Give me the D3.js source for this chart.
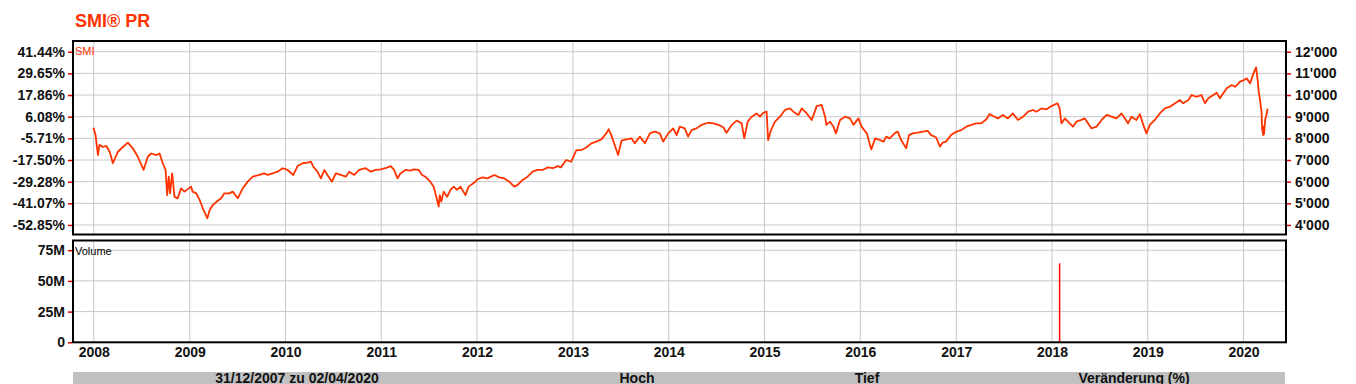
<!DOCTYPE html>
<html>
<head>
<meta charset="utf-8">
<script src="https://cdn.jsdelivr.net/npm/d3@7"></script>
<style>
    body { margin: 0; background: #fff; }
    svg text { font-family: "Liberation Sans", Arial, sans-serif; }
    .axisLabel text { font-size: 14px; font-weight: bold; fill: #111; }
    .grid line { stroke: #c8c8c8; stroke-width: 1; }
</style>
</head>
<body>
<script>

// ----- data -----

// SMI closes [date, points]
const smiCloses = [
    ["2007-12-31", 8484], ["2008-01-08", 8150], ["2008-01-17", 7230], ["2008-01-23", 7700],
    ["2008-02-05", 7600], ["2008-02-18", 7650], ["2008-03-02", 7380], ["2008-03-14", 6850],
    ["2008-04-02", 7380], ["2008-04-21", 7600], ["2008-05-10", 7800], ["2008-05-29", 7540],
    ["2008-06-17", 7150], ["2008-07-09", 6540], ["2008-07-25", 7150], ["2008-08-07", 7300],
    ["2008-08-26", 7230], ["2008-09-08", 7300], ["2008-09-20", 6850], ["2008-10-01", 6540],
    ["2008-10-07", 5380], ["2008-10-13", 6230], ["2008-10-18", 5460], ["2008-10-26", 6380],
    ["2008-11-04", 5300], ["2008-11-16", 5230], ["2008-11-29", 5690], ["2008-12-12", 5540],
    ["2009-01-06", 5770], ["2009-01-12", 5540], ["2009-01-26", 5460], ["2009-02-08", 5150],
    ["2009-02-20", 4770], ["2009-03-09", 4310], ["2009-03-18", 4690], ["2009-03-30", 4920],
    ["2009-04-14", 5080], ["2009-05-01", 5230], ["2009-05-13", 5460], ["2009-06-01", 5460],
    ["2009-06-14", 5540], ["2009-07-03", 5230], ["2009-07-22", 5690], ["2009-08-10", 6000],
    ["2009-08-29", 6230], ["2009-09-23", 6310], ["2009-10-12", 6380], ["2009-10-25", 6310],
    ["2009-11-13", 6380], ["2009-12-02", 6460], ["2009-12-21", 6620], ["2010-01-09", 6540],
    ["2010-01-31", 6310], ["2010-02-16", 6720], ["2010-03-07", 6850], ["2010-03-26", 6880],
    ["2010-04-08", 6920], ["2010-04-17", 6690], ["2010-05-03", 6460], ["2010-05-16", 6150],
    ["2010-05-29", 6540], ["2010-06-10", 6310], ["2010-06-27", 6000], ["2010-07-12", 6380],
    ["2010-07-31", 6310], ["2010-08-19", 6230], ["2010-09-01", 6460], ["2010-09-20", 6310],
    ["2010-10-09", 6540], ["2010-11-03", 6620], ["2010-11-22", 6460], ["2010-12-11", 6540],
    ["2010-12-30", 6570], ["2011-01-17", 6620], ["2011-02-06", 6720], ["2011-02-19", 6540],
    ["2011-03-04", 6150], ["2011-03-15", 6380], ["2011-04-03", 6540], ["2011-04-22", 6510],
    ["2011-05-05", 6570], ["2011-05-24", 6540], ["2011-06-06", 6310], ["2011-06-18", 6230],
    ["2011-07-07", 6000], ["2011-07-20", 5770], ["2011-08-08", 4850], ["2011-08-12", 5380],
    ["2011-08-18", 5080], ["2011-08-27", 5540], ["2011-09-09", 5300], ["2011-09-22", 5620],
    ["2011-10-04", 5770], ["2011-10-17", 5620], ["2011-10-30", 5770], ["2011-11-18", 5380],
    ["2011-11-30", 5770], ["2011-12-26", 6000], ["2012-01-03", 6110], ["2012-01-22", 6200],
    ["2012-02-10", 6150], ["2012-03-07", 6310], ["2012-03-26", 6200], ["2012-04-14", 6150],
    ["2012-05-03", 6000], ["2012-05-22", 5770], ["2012-06-04", 5850], ["2012-06-23", 6080],
    ["2012-07-12", 6230], ["2012-07-31", 6460], ["2012-08-19", 6540], ["2012-09-07", 6540],
    ["2012-09-27", 6660], ["2012-10-16", 6620], ["2012-11-04", 6720], ["2012-11-16", 6660],
    ["2012-12-06", 7000], ["2012-12-25", 6920], ["2013-01-14", 7460], ["2013-02-02", 7460],
    ["2013-02-21", 7580], ["2013-03-12", 7770], ["2013-03-31", 7850], ["2013-04-19", 7950],
    ["2013-05-08", 8230], ["2013-05-17", 8420], ["2013-05-27", 8150], ["2013-06-09", 7690],
    ["2013-06-22", 7230], ["2013-07-05", 7890], ["2013-07-24", 7950], ["2013-08-12", 8000],
    ["2013-08-24", 7770], ["2013-09-13", 8080], ["2013-10-02", 7770], ["2013-10-21", 8230],
    ["2013-11-09", 8310], ["2013-11-28", 8230], ["2013-12-11", 7850], ["2013-12-30", 8230],
    ["2014-01-18", 8460], ["2014-01-31", 8150], ["2014-02-12", 8540], ["2014-03-03", 8460],
    ["2014-03-16", 8080], ["2014-03-29", 8380], ["2014-04-17", 8460], ["2014-05-06", 8620],
    ["2014-05-31", 8720], ["2014-06-20", 8690], ["2014-07-09", 8620], ["2014-07-28", 8510],
    ["2014-08-09", 8260], ["2014-08-29", 8620], ["2014-09-17", 8820], ["2014-10-06", 8690],
    ["2014-10-16", 8000], ["2014-10-29", 8770], ["2014-11-13", 9000], ["2014-12-02", 9150],
    ["2014-12-15", 9000], ["2014-12-27", 9180], ["2015-01-09", 9230], ["2015-01-15", 7920],
    ["2015-01-26", 8380], ["2015-02-10", 8770], ["2015-03-01", 9000], ["2015-03-20", 9310],
    ["2015-04-08", 9380], ["2015-04-21", 9230], ["2015-05-10", 9080], ["2015-05-23", 9380],
    ["2015-06-11", 9150], ["2015-06-30", 8850], ["2015-07-19", 9490], ["2015-08-07", 9540],
    ["2015-08-20", 9000], ["2015-08-25", 8620], ["2015-09-08", 8770], ["2015-09-21", 8540],
    ["2015-09-30", 8230], ["2015-10-16", 8850], ["2015-11-04", 9000], ["2015-11-23", 8920],
    ["2015-12-06", 8620], ["2015-12-25", 8920], ["2016-01-06", 8540], ["2016-01-26", 8230],
    ["2016-02-12", 7490], ["2016-02-27", 8000], ["2016-03-17", 7920], ["2016-03-30", 7850],
    ["2016-04-09", 8080], ["2016-04-22", 8000], ["2016-05-11", 8230], ["2016-05-23", 8310],
    ["2016-06-05", 7920], ["2016-06-24", 7540], ["2016-07-05", 8150], ["2016-07-19", 8230],
    ["2016-08-07", 8260], ["2016-08-26", 8310], ["2016-09-14", 8350], ["2016-09-27", 8150],
    ["2016-10-16", 8050], ["2016-10-31", 7620], ["2016-11-10", 7800], ["2016-11-23", 7850],
    ["2016-12-12", 8150], ["2017-01-02", 8310], ["2017-01-20", 8380], ["2017-02-08", 8540],
    ["2017-02-27", 8620], ["2017-03-18", 8690], ["2017-04-06", 8690], ["2017-04-26", 8880],
    ["2017-05-08", 9120], ["2017-05-27", 9000], ["2017-06-09", 8920], ["2017-06-28", 9080],
    ["2017-07-17", 8920], ["2017-08-05", 9150], ["2017-08-24", 8850], ["2017-09-13", 9000],
    ["2017-10-02", 9230], ["2017-10-21", 9310], ["2017-11-02", 9230], ["2017-11-22", 9380],
    ["2017-12-11", 9340], ["2017-12-30", 9490], ["2018-01-22", 9620], ["2018-01-30", 9380],
    ["2018-02-06", 8690], ["2018-02-19", 8920], ["2018-03-03", 8770], ["2018-03-22", 8540],
    ["2018-04-04", 8770], ["2018-04-23", 8850], ["2018-05-06", 8920], ["2018-05-19", 8690],
    ["2018-05-31", 8460], ["2018-06-20", 8540], ["2018-07-09", 8850], ["2018-07-28", 9080],
    ["2018-08-16", 9000], ["2018-09-04", 8920], ["2018-09-23", 9150], ["2018-10-06", 8920],
    ["2018-10-18", 8690], ["2018-10-31", 9000], ["2018-11-19", 8850], ["2018-12-02", 9120],
    ["2018-12-15", 8620], ["2018-12-27", 8230], ["2019-01-09", 8620], ["2019-01-28", 8850],
    ["2019-02-16", 9150], ["2019-03-07", 9380], ["2019-03-27", 9460], ["2019-04-15", 9620],
    ["2019-05-04", 9770], ["2019-05-16", 9620], ["2019-06-05", 9770], ["2019-06-17", 10000],
    ["2019-07-06", 9920], ["2019-07-25", 10000], ["2019-08-07", 9620], ["2019-08-20", 9850],
    ["2019-09-08", 10000], ["2019-09-21", 10110], ["2019-10-03", 9850], ["2019-10-16", 10080],
    ["2019-10-29", 10310], ["2019-11-17", 10460], ["2019-11-30", 10380], ["2019-12-19", 10620],
    ["2020-01-03", 10690], ["2020-01-13", 10770], ["2020-01-26", 10540], ["2020-02-08", 11000],
    ["2020-02-18", 11280], ["2020-02-24", 10690], ["2020-02-28", 10150], ["2020-03-04", 9770],
    ["2020-03-10", 9200], ["2020-03-12", 8450], ["2020-03-16", 8150], ["2020-03-17", 8540],
    ["2020-03-19", 8180], ["2020-03-24", 8900], ["2020-03-27", 9000], ["2020-04-02", 9370]
];

// traded volume [date, shares]
const volumes = [["2018-01-30", 64300000]];

// tick values and their labels
const priceTicks = [4000, 5000, 6000, 7000, 8000, 9000, 10000, 11000, 12000];
const pctLabels = ["-52.85%", "-41.07%", "-29.28%", "-17.50%", "-5.71%", "6.08%", "17.86%", "29.65%", "41.44%"];
const volumeTicks = [0, 25000000, 50000000, 75000000];
const volumeLabels = ["0", "25M", "50M", "75M"];

// visible extent of each axis
const dateExtent = ["2007-10-14", "2020-06-11"];
const priceExtent = [3560, 12495];
const volumeExtent = [0, 82900000];

const tableHeaders = ["31/12/2007 zu 02/04/2020", "Hoch", "Tief", "Veränderung (%)"];

// ----- layout -----
const width = 1356, height = 384;
const left = 73, right = 1286;
const priceTop = 41, priceBottom = 234.5;
const volTop = 240.5, volBottom = 342.3;
const accent = "#ff3300";

const parseDate = d3.timeParse("%Y-%m-%d");
const priceData = smiCloses.map(d => ({ date: parseDate(d[0]), value: d[1] }));
const volumeData = volumes.map(d => ({ date: parseDate(d[0]), value: d[1] }));

const apostrophe = d3.formatLocale({ decimal: ".", thousands: "'", grouping: [3], currency: ["", ""] }).format(",");

// scales
const x = d3.scaleTime()
    .domain(dateExtent.map(parseDate))
    .range([left, right]);

const yPrice = d3.scaleLinear()
    .domain(priceExtent)
    .range([priceBottom, priceTop]);

const yVol = d3.scaleLinear()
    .domain(volumeExtent)
    .range([volBottom, volTop]);

const svg = d3.select("body")
    .append("svg")
    .attr("width", width)
    .attr("height", height);

// title
svg.append("text")
    .attr("x", 75)
    .attr("y", 27)
    .attr("fill", accent)
    .style("font-size", "18px")
    .style("font-weight", "bold")
    .text("SMI® PR");

const years = x.ticks(d3.timeYear.every(1));

// ----- gridlines -----
const grid = svg.append("g").attr("class", "grid");

grid.selectAll(".vPrice")
    .data(years)
    .enter()
    .append("line")
    .attr("x1", d => x(d)).attr("x2", d => x(d))
    .attr("y1", priceTop).attr("y2", priceBottom);

grid.selectAll(".vVol")
    .data(years)
    .enter()
    .append("line")
    .attr("x1", d => x(d)).attr("x2", d => x(d))
    .attr("y1", volTop).attr("y2", volBottom);

grid.selectAll(".hPrice")
    .data(priceTicks)
    .enter()
    .append("line")
    .attr("x1", left).attr("x2", right)
    .attr("y1", d => yPrice(d)).attr("y2", d => yPrice(d));

grid.selectAll(".hVol")
    .data(volumeTicks.slice(1))
    .enter()
    .append("line")
    .attr("x1", left).attr("x2", right)
    .attr("y1", d => yVol(d)).attr("y2", d => yVol(d));

// ----- price line -----
svg.append("clipPath")
    .attr("id", "priceClip")
    .append("rect")
    .attr("x", left).attr("y", priceTop)
    .attr("width", right - left).attr("height", priceBottom - priceTop);

const line = d3.line()
    .x(d => x(d.date))
    .y(d => yPrice(d.value));

svg.append("path")
    .datum(priceData)
    .attr("clip-path", "url(#priceClip)")
    .attr("fill", "none")
    .attr("stroke", accent)
    .attr("stroke-width", 1.8)
    .attr("stroke-linejoin", "round")
    .attr("d", line);

// ----- volume bars -----
svg.selectAll(".volBar")
    .data(volumeData)
    .enter()
    .append("line")
    .attr("class", "volBar")
    .attr("x1", d => x(d.date)).attr("x2", d => x(d.date))
    .attr("y1", yVol(0))
    .attr("y2", d => yVol(d.value))
    .attr("stroke", "#ff0000")
    .attr("stroke-width", 1.5);

// ----- panel frames -----
svg.append("rect")
    .attr("x", left).attr("y", priceTop)
    .attr("width", right - left).attr("height", priceBottom - priceTop)
    .attr("fill", "none").attr("stroke", "#000").attr("stroke-width", 2);

svg.append("rect")
    .attr("x", left).attr("y", volTop)
    .attr("width", right - left).attr("height", volBottom - volTop)
    .attr("fill", "none").attr("stroke", "#000").attr("stroke-width", 2);

// panel captions
svg.append("text")
    .attr("x", 75).attr("y", 55)
    .attr("fill", accent)
    .style("font-size", "11px")
    .text("SMI");

svg.append("text")
    .attr("x", 75).attr("y", 255)
    .attr("fill", "#000")
    .style("font-size", "11px")
    .text("Volume");

// ----- axes -----
function styleAxis(g) {
    g.select(".domain").remove();
    g.selectAll(".tick line").attr("stroke", "#e00000").attr("stroke-width", 1.5);
}

svg.append("g")
    .attr("class", "axisLabel")
    .attr("transform", "translate(" + (left - 1) + ",0)")
    .call(d3.axisLeft(yPrice)
        .tickValues(priceTicks)
        .tickFormat((d, i) => pctLabels[i])
        .tickSize(4)
        .tickPadding(3))
    .call(styleAxis);

svg.append("g")
    .attr("class", "axisLabel")
    .attr("transform", "translate(" + (right + 1) + ",0)")
    .call(d3.axisRight(yPrice)
        .tickValues(priceTicks)
        .tickFormat(apostrophe)
        .tickSize(4)
        .tickPadding(4))
    .call(styleAxis);

svg.append("g")
    .attr("class", "axisLabel")
    .attr("transform", "translate(" + (left - 1) + ",0)")
    .call(d3.axisLeft(yVol)
        .tickValues(volumeTicks)
        .tickFormat((d, i) => volumeLabels[i])
        .tickSize(4)
        .tickPadding(3))
    .call(styleAxis);

svg.append("g")
    .attr("class", "axisLabel")
    .attr("transform", "translate(0," + volBottom + ")")
    .call(d3.axisBottom(x)
        .tickValues(years)
        .tickFormat(d3.timeFormat("%Y"))
        .tickSize(0)
        .tickPadding(5))
    .call(g => g.select(".domain").remove());

// ----- summary table header -----
const colCenters = [297, 637, 867, 1134];

svg.append("rect")
    .attr("x", left).attr("y", 372)
    .attr("width", right - left - 1).attr("height", 14)
    .attr("fill", "#c0c0c0");

svg.selectAll(".tableHead")
    .data(tableHeaders)
    .enter()
    .append("text")
    .attr("class", "tableHead")
    .attr("x", (d, i) => colCenters[i])
    .attr("y", 383)
    .attr("text-anchor", "middle")
    .style("font-size", "14px")
    .style("font-weight", "bold")
    .attr("fill", "#111")
    .text(d => d);

</script>
</body>
</html>
